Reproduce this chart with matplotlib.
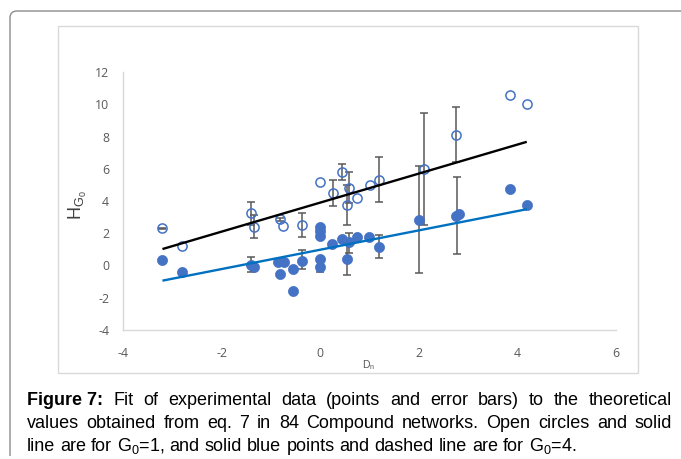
import numpy as np
import matplotlib
matplotlib.use("Agg")
import matplotlib.pyplot as plt
from matplotlib import font_manager
from matplotlib.path import Path
from matplotlib.patches import PathPatch, Rectangle
from matplotlib.transforms import IdentityTransform

# ---- data: G0 = 1 (open circles) ----
g1_x = [-3.20, -2.81, -1.41, -1.35, -0.81, -0.76, -0.36, -0.01, 0.25, 0.45,
        0.54, 0.59, 0.74, 1.00, 1.19, 2.10, 2.75, 3.84, 4.19]
g1_y = [2.31, 1.19, 3.24, 2.41, 2.87, 2.47, 2.52, 5.16, 4.48, 5.79,
        3.76, 4.83, 4.19, 4.98, 5.31, 5.99, 8.11, 10.57, 9.99]
g1_eb_x = [-3.20, -1.41, -1.35, -0.81, -0.36, 0.25, 0.45, 0.54, 0.59, 1.19, 2.10, 2.75]
g1_eb_y = [2.31, 3.24, 2.41, 2.87, 2.52, 4.48, 5.79, 3.76, 4.83, 5.31, 5.99, 8.11]
g1_eb_err = [0.02, 0.72, 0.72, 0.10, 0.74, 0.82, 0.50, 1.22, 0.98, 1.40, 3.47, 1.70]

# ---- data: G0 = 4 (filled points) ----
g4_x = [-3.20, -2.81, -1.41, -1.35, -0.86, -0.74, -0.81, -0.55, -0.55, -0.36,
        0.00, 0.00, 0.00, 0.00, 0.00, 0.24, 0.45, 0.59, 0.74, 0.99,
        1.20, 0.54, 2.00, 2.75, 2.82, 3.84, 4.19]
g4_y = [0.36, -0.42, 0.05, -0.07, 0.22, 0.22, -0.51, -0.22, -1.60, 0.26,
        2.40, 2.15, 1.80, 0.38, -0.09, 1.32, 1.67, 1.48, 1.79, 1.79,
        1.17, 0.38, 2.83, 3.10, 3.20, 4.77, 3.76]
g4_eb_x = [-1.41, -0.36, 0.00, 0.59, 0.54, 1.20, 2.00, 2.78]
g4_eb_y = [0.05, 0.37, -0.09, 1.42, 0.40, 1.20, 2.85, 3.10]
g4_eb_err = [0.45, 0.59, 0.30, 0.62, 0.98, 0.72, 3.33, 2.38]

# ---- theoretical lines (end points) ----
fit_x = [-3.20, 4.19]
fit1_y = [1.02, 7.67]
fit4_y = [-0.94, 3.49]

x_ticks = [-4, -2, 0, 2, 4, 6]
y_ticks = [-4, -2, 0, 2, 4, 6, 8, 10, 12]

# caption words as (text, weight)
caption_lines = [
    [("Figure 7:", "bold")] + [(w, "normal") for w in
     "Fit of experimental data (points and error bars) to the theoretical".split()],
    [(w, "normal") for w in
     "values obtained from eq. 7 in 84 Compound networks. Open circles and solid".split()],
    [(w, "normal") for w in
     "line are for G$_0$=1, and solid blue points and dashed line are for G$_0$=4.".split()],
]

W, H = 681, 459
DPI = 100

available = {f.name for f in font_manager.fontManager.ttflist}
tick_font = "Open Sans" if "Open Sans" in available else "DejaVu Sans"

plt.rcParams["mathtext.fontset"] = "custom"
plt.rcParams["mathtext.rm"] = "Liberation Sans"
plt.rcParams["mathtext.it"] = "Liberation Sans:italic"
plt.rcParams["mathtext.bf"] = "Liberation Sans:bold"

fig = plt.figure(figsize=(W / DPI, H / DPI), dpi=DPI)
fig.patch.set_facecolor("white")


def fx(x):
    return x / W


def fy(y):
    return 1 - y / H


# outer frame: top and left edges with a rounded corner (pixel coordinates)
r = 7
verts = [(10, H - 456), (10, H - 11 - r), (10, H - 11), (10 + r, H - 11), (W, H - 11)]
codes = [Path.MOVETO, Path.LINETO, Path.CURVE3, Path.CURVE3, Path.LINETO]
fig.add_artist(PathPatch(Path(verts, codes), fill=False, edgecolor="#8c8c8c",
                         lw=1.0, transform=IdentityTransform()))

# chart area box
fig.add_artist(Rectangle((fx(58), fy(373)), fx(638) - fx(58), fy(26) - fy(373),
                         transform=fig.transFigure, fill=False,
                         edgecolor="#d9d9d9", lw=1.0))

ax = fig.add_axes([fx(123), fy(330), fx(616) - fx(123), fy(72) - fy(330)])
ax.set_xlim(-4, 6)
ax.set_ylim(-4, 12)
ax.set_xticks(x_ticks)
ax.set_yticks(y_ticks)
ax.set_xticklabels([str(t) for t in x_ticks])
ax.set_yticklabels([str(t) for t in y_ticks])
for s in ("top", "right"):
    ax.spines[s].set_visible(False)
for s in ("left", "bottom"):
    ax.spines[s].set_color("#d9d9d9")
    ax.spines[s].set_linewidth(1.0)
ax.tick_params(length=0, labelsize=8.8, colors="#595959")
ax.tick_params(axis="y", pad=10)
ax.tick_params(axis="x", pad=12)
for lab in ax.get_xticklabels() + ax.get_yticklabels():
    lab.set_fontfamily(tick_font)

marker_col = "#4472c4"
err_col = "#595959"

ax.errorbar(g1_eb_x, g1_eb_y, yerr=g1_eb_err, fmt="none", ecolor=err_col,
            elinewidth=1.1, capsize=3, capthick=1.1, zorder=2)
ax.errorbar(g4_eb_x, g4_eb_y, yerr=g4_eb_err, fmt="none", ecolor=err_col,
            elinewidth=1.1, capsize=3, capthick=1.1, zorder=2)

ax.plot(g1_x, g1_y, "o", ms=6.6, mfc="none", mec=marker_col, mew=1.1, zorder=3)
ax.plot(g4_x, g4_y, "o", ms=7.3, mfc=marker_col, mec=marker_col, mew=0.5, zorder=3)

ax.plot(fit_x, fit1_y, color="black", lw=1.7, solid_capstyle="butt", zorder=4)
ax.plot(fit_x, fit4_y, color="#0070c0", lw=1.7, solid_capstyle="butt", zorder=4)

fig.text(fx(78), fy(205), "H$_{\\mathrm{G}_0}$", rotation=90, ha="center", va="center",
         fontsize=13, color="#404040", family="Liberation Sans")
fig.text(fx(369), fy(365), "D$_\\mathrm{n}$", ha="center", va="center",
         fontsize=7.5, color="#595959", family="Liberation Sans")

# caption, first two lines justified to the block width
cap_left, cap_right = 27, 672
baselines = [405, 428, 451]
cap_size = 13.0
renderer = fig.canvas.get_renderer()
space_w = fig.text(0, 0, "a a", fontsize=cap_size, family="Liberation Sans").get_window_extent(renderer).width \
    - fig.text(0, 0, "aa", fontsize=cap_size, family="Liberation Sans").get_window_extent(renderer).width
for t in fig.texts[-2:]:
    t.set_visible(False)
for i, words in enumerate(caption_lines):
    texts = [fig.text(0, 0, w, fontsize=cap_size, family="Liberation Sans",
                      fontweight=wt, color="black", va="baseline", ha="left")
             for w, wt in words]
    widths = [t.get_window_extent(renderer).width for t in texts]
    if i < 2:
        gap = (cap_right - cap_left - sum(widths)) / (len(words) - 1)
    else:
        gap = space_w
    x = cap_left
    for t, w in zip(texts, widths):
        t.set_position((fx(x), fy(baselines[i])))
        x += w + gap

fig.savefig("out.png", dpi=DPI)
